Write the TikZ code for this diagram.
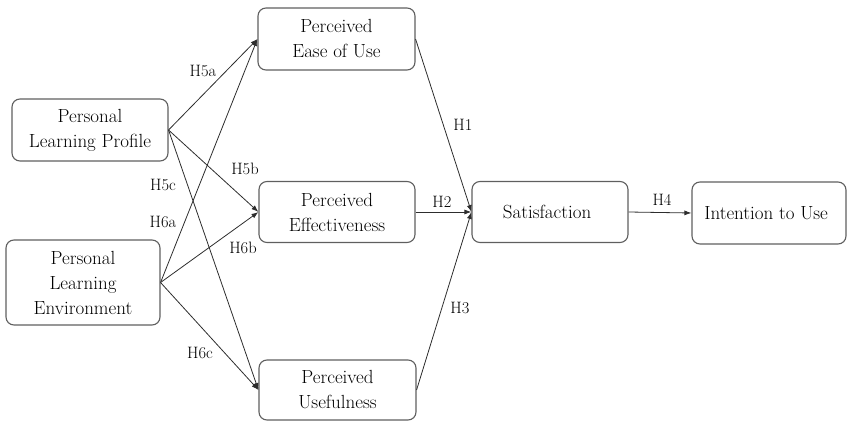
\documentclass[tikz,border=0pt]{standalone}
\usetikzlibrary{positioning, arrows.meta}
\definecolor{boxline}{RGB}{95,95,95}
\definecolor{arrowline}{RGB}{45,45,45}
\definecolor{textcolor}{RGB}{0,0,0}

\begin{document}
\begin{tikzpicture}[x=1pt, y=-1pt]
  \tikzset{
    construct/.style={
      draw=boxline,
      line width=1.1pt,
      rounded corners=8pt,
      align=center,
      text=textcolor,
      inner sep=0pt,
      font=\fontsize{19}{25}\selectfont
    },
    hyp/.style={
      text=textcolor,
      inner sep=0pt,
      font=\fontsize{16.5}{20}\selectfont
    },
    link/.style={
      draw=arrowline,
      line width=0.8pt,
      -{Latex[length=7pt,width=5pt]}
    }
  }
  \useasboundingbox (0,0) rectangle (847,422);

  % Draw the constructs
    \node[construct, minimum width=156pt, minimum height=62pt] at (90, 130) (plp) {
        Personal\\Learning Profile
    };
    \node[construct, minimum width=154pt, minimum height=85pt] at (83, 282.5) (ple) {
        Personal\\Learning\\Environment
    };
    \node[construct, minimum width=157pt, minimum height=62pt] at (336.5, 39) (peu) {
        Perceived\\Ease of Use
    };
    \node[construct, minimum width=156pt, minimum height=61pt] at (337, 212) (pe) {
        Perceived\\Effectiveness
    };
    \node[construct, minimum width=157pt, minimum height=60pt] at (337.5, 390) (pu) {
        Perceived\\Usefulness
    };
    \node[construct, minimum width=156pt, minimum height=61pt] at (550, 212) (sat) {
        Satisfaction
    };
    \node[construct, minimum width=154pt, minimum height=62pt] at (769, 213) (itu) {
        Intention to Use
    };

  % Hypothesised paths
    \draw[link] (plp.east) -- (peu.west);
    \draw[link] (plp.east) -- (pe.west);
    \draw[link] (plp.east) -- (pu.west);
    \draw[link] (ple.east) -- (peu.west);
    \draw[link] (ple.east) -- (pe.west);
    \draw[link] (ple.east) -- (pu.west);
    \draw[link] (peu.east) -- (sat.west);
    \draw[link] (pe.east) -- (sat.west);
    \draw[link] (pu.east) -- (sat.west);
    \draw[link] (sat.east) -- (itu.west);

  % Path labels
    \node[hyp] at (203, 71) (h5a) {H5a};
    \node[hyp] at (245, 169) (h5b) {H5b};
    \node[hyp] at (163, 185) (h5c) {H5c};
    \node[hyp] at (163, 222) (h6a) {H6a};
    \node[hyp] at (243, 248) (h6b) {H6b};
    \node[hyp] at (200, 353) (h6c) {H6c};
    \node[hyp] at (463, 125) (h1) {H1};
    \node[hyp] at (442, 202) (h2) {H2};
    \node[hyp] at (460, 308) (h3) {H3};
    \node[hyp] at (662, 200) (h4) {H4};

\end{tikzpicture}
\end{document}
